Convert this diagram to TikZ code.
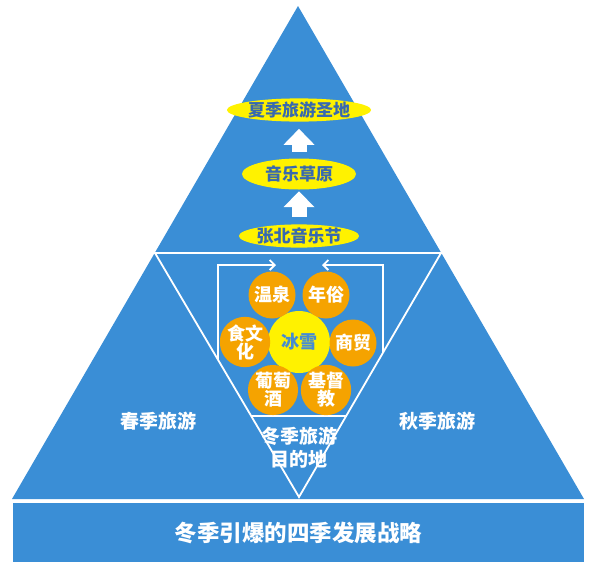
\documentclass[tikz,border=0pt]{standalone}
\usepackage{fontspec}
\setmainfont{Noto Sans CJK SC}
\usetikzlibrary{arrows.meta,shapes.geometric}
\definecolor{pblue}{RGB}{58,142,214}
\definecolor{porange}{RGB}{245,163,0}
\definecolor{pyellow}{RGB}{255,242,0}
\definecolor{ptext}{RGB}{55,105,175}
\definecolor{ptextb}{RGB}{70,140,210}
\begin{document}
\begin{tikzpicture}[x=1pt,y=-1pt,
  wline/.style={draw=white,line width=1.8pt},
  ocirc/.style={circle,fill=porange,minimum size=47pt,inner sep=0pt,text=white,
    align=center,font=\bfseries\fontsize{18}{18}\selectfont},
  ycirc/.style={circle,fill=pyellow,minimum size=62pt,inner sep=0pt,text=ptextb,
    font=\bfseries\fontsize{18}{18}\selectfont},
  yell/.style={ellipse,fill=pyellow,minimum width=114pt,inner sep=0pt,text=ptext,
    font=\bfseries\fontsize{17}{18}\selectfont},
  uparrow/.style={draw=white,line width=15pt,-{Triangle[length=16pt,width=30pt]}},
  lab/.style={text=white,align=center,font=\bfseries\fontsize{19}{23}\selectfont},
  rectarrow/.style={wline,{Straight Barb[length=5pt,width=10pt]}-{Straight Barb[length=5pt,width=10pt]}}
]
\useasboundingbox (0,0) rectangle (593,568);
% big triangle
\fill[pblue] (298,6) -- (584,499) -- (12,499) -- cycle;
\draw[draw=white,line width=2.6pt] (152,253) -- (444,253);
% inverted triangle
\draw[wline,line join=miter] (155,253) -- (441,253) -- (299,497) -- cycle;
% inner frame with arrows
\begin{scope}
\clip (155,253) -- (441,253) -- (299,497) -- cycle;
\draw[rectarrow] (276,265) -- (218,265) -- (218,416) -- (383,416) -- (383,265) -- (322,265);
\end{scope}
% bottom bar
\node[fill=pblue,minimum width=571pt,minimum height=59pt,inner sep=0pt,anchor=north west,
  text=white,font=\bfseries\fontsize{22.5}{23}\selectfont] (base) at (13,503) {冬季引爆的四季发展战略};
% ellipses
\node[yell,minimum height=20pt] (e1) at (299,110) {夏季旅游圣地};
\node[yell,minimum height=31pt] (e2) at (299,174) {音乐草原};
\node[yell,minimum height=21pt] (e3) at (299,236) {张北音乐节};
\draw[uparrow,shorten <=6.5pt,shorten >=7pt] (e2.north) -- (e1.south);
\draw[uparrow,shorten <=7.5pt,shorten >=1.5pt] (e3.north) -- (e2.south);
% circles
\node[ycirc] (bx) at (299,342) {冰雪};
\node[ocirc] (wq) at (272,295) {温泉};
\node[ocirc] (ns) at (326,295) {年俗};
\node[ocirc] (sw) at (245,342) {食文\\化};
\node[ocirc] (sm) at (353,343) {商贸};
\node[ocirc] (pt) at (273,390) {葡萄\\酒};
\node[ocirc] (jd) at (326,390) {基督\\教};
% labels
\node[lab] (spring) at (158,421) {春季旅游};
\node[lab] (autumn) at (437,421) {秋季旅游};
\node[lab] (winter) at (299,448) {冬季旅游\\目的地};
\end{tikzpicture}
\end{document}
